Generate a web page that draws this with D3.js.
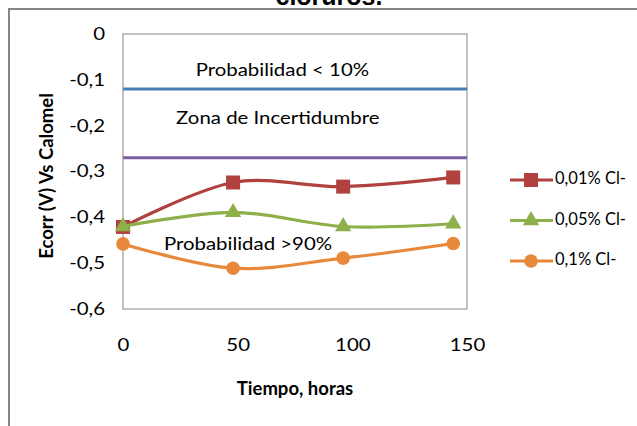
<!DOCTYPE html>
<html>
<head>
<meta charset="utf-8">
<script src="https://cdn.jsdelivr.net/npm/d3@7"></script>
<style>
  html, body { margin: 0; padding: 0; background: #fff; }
  svg { display: block; font-family: Lato, "Open Sans", sans-serif; }
</style>
</head>
<body>
<svg id="chart" width="637" height="426"></svg>
<script>
// Corrosion potential vs time for three chloride concentrations
const hours = [0, 48, 96, 144];
const seriesNames = ["0,01% Cl-", "0,05% Cl-", "0,1% Cl-"];
const ecorr001 = [-0.421, -0.324, -0.333, -0.313];
const ecorr005 = [-0.420, -0.389, -0.420, -0.414];
const ecorr01  = [-0.458, -0.511, -0.489, -0.457];
const seriesColors = ["#B0413E", "#8DB04A", "#E8883A"];
const seriesMarkers = ["square", "triangle", "circle"];

// Threshold lines (ASTM C876 style zones)
const thresholds = [-0.12, -0.27];
const thresholdColors = ["#4A7EBB", "#7D5FA0"];
const zoneLabels = [
  { text: "Probabilidad < 10%", x: 69.5, y: -0.083 },
  { text: "Zona de Incertidumbre", x: 67.5, y: -0.188 },
  { text: "Probabilidad >90%", x: 54.5, y: -0.461 }
];

const xTicks = [0, 50, 100, 150];
const yTicks = [0, -0.1, -0.2, -0.3, -0.4, -0.5, -0.6];

// horizontal stretch applied to the plain-text labels
const STRETCH = 1.2;

const svg = d3.select("#chart");

// Outer chart frame (partly outside the viewport)
svg.append("rect")
  .attr("x", 9).attr("y", 9)
  .attr("width", 700).attr("height", 500)
  .attr("fill", "none")
  .attr("stroke", "#858585")
  .attr("stroke-width", 2);

// Title tail visible above the frame
svg.append("text")
  .attr("x", 329).attr("y", 5)
  .attr("text-anchor", "middle")
  .attr("font-family", "Liberation Sans, Arial, sans-serif")
  .attr("font-weight", "bold")
  .attr("font-size", 25)
  .text("cloruros.");

const plot = { left: 123, right: 467, top: 34, bottom: 309 };

const x = d3.scaleLinear().domain([0, 150]).range([plot.left, plot.right]);
const y = d3.scaleLinear().domain([-0.6, 0]).range([plot.bottom, plot.top]);

// Plot area
svg.append("rect")
  .attr("x", plot.left).attr("y", plot.top)
  .attr("width", plot.right - plot.left)
  .attr("height", plot.bottom - plot.top)
  .attr("fill", "#fff")
  .attr("stroke", "#868686")
  .attr("stroke-width", 1);

// Axes (labels only, Excel style)
const fmt = d => d === 0 ? "0" : d3.format(".1f")(d).replace(".", ",").replace("−", "-");

const yPad = 18;
const yAxis = d3.axisLeft(y).tickValues(yTicks).tickSize(0).tickPadding(yPad).tickFormat(fmt);
const yG = svg.append("g").attr("transform", `translate(${plot.left},0)`).call(yAxis);
yG.select(".domain").remove();
yG.selectAll("text")
  .attr("font-size", 17).attr("fill", "#000").attr("font-family", "Lato, sans-serif")
  .attr("x", -yPad / STRETCH)
  .attr("transform", `scale(${STRETCH},1)`);

const xAxis = d3.axisBottom(x).tickValues(xTicks).tickSize(0).tickPadding(30).tickFormat(d3.format("d"));
const xG = svg.append("g").attr("transform", `translate(0,${plot.bottom})`).call(xAxis);
xG.select(".domain").remove();
xG.selectAll("text")
  .attr("font-size", 17).attr("fill", "#000").attr("font-family", "Lato, sans-serif")
  .attr("transform", `scale(${STRETCH},1)`);

// Threshold lines
thresholds.forEach((t, i) => {
  svg.append("line")
    .attr("x1", plot.left).attr("x2", plot.right)
    .attr("y1", y(t)).attr("y2", y(t))
    .attr("stroke", thresholdColors[i])
    .attr("stroke-width", 3);
});

// Series
const allSeries = [ecorr001, ecorr005, ecorr01];
const line = d3.line()
  .x(d => x(d[0]))
  .y(d => y(d[1]))
  .curve(d3.curveCardinal.tension(0));

function drawMarker(g, type, cx, cy, color) {
  if (type === "square") {
    g.append("rect")
      .attr("x", cx - 7).attr("y", cy - 7)
      .attr("width", 14).attr("height", 14)
      .attr("fill", color);
  } else if (type === "triangle") {
    g.append("path")
      .attr("d", d3.symbol().type(d3.symbolTriangle).size(115)())
      .attr("transform", `translate(${cx},${cy})`)
      .attr("fill", color);
  } else {
    g.append("circle")
      .attr("cx", cx).attr("cy", cy).attr("r", 6.8)
      .attr("fill", color);
  }
}

allSeries.forEach((vals, i) => {
  const pts = hours.map((h, j) => [h, vals[j]]);
  const g = svg.append("g");
  g.append("path")
    .attr("d", line(pts))
    .attr("fill", "none")
    .attr("stroke", seriesColors[i])
    .attr("stroke-width", 3.2)
    .attr("stroke-linejoin", "round");
  pts.forEach(p => drawMarker(g, seriesMarkers[i], x(p[0]), y(p[1]), seriesColors[i]));
});

// Zone annotations
zoneLabels.forEach(z => {
  svg.append("g")
    .attr("transform", `translate(${x(z.x)},${y(z.y)}) scale(${STRETCH},1)`)
    .append("text")
    .attr("text-anchor", "middle")
    .attr("dominant-baseline", "middle")
    .attr("font-size", 17)
    .attr("fill", "#000")
    .text(z.text);
});

// Axis titles
svg.append("text")
  .attr("transform", "translate(48,176) rotate(-90)")
  .attr("text-anchor", "middle")
  .attr("dominant-baseline", "middle")
  .attr("font-size", 18.5)
  .attr("font-weight", "bold")
  .text("Ecorr (V) Vs Calomel");

svg.append("text")
  .attr("x", 295).attr("y", 390)
  .attr("text-anchor", "middle")
  .attr("dominant-baseline", "middle")
  .attr("font-size", 18.5)
  .attr("font-weight", "bold")
  .text("Tiempo, horas");

// Legend
const legend = svg.append("g");
seriesNames.forEach((name, i) => {
  const ly = 180 + i * 40.5;
  legend.append("line")
    .attr("x1", 510).attr("x2", 553)
    .attr("y1", ly).attr("y2", ly)
    .attr("stroke", seriesColors[i])
    .attr("stroke-width", 3.2);
  drawMarker(legend, seriesMarkers[i], 531, ly, seriesColors[i]);
  legend.append("text")
    .attr("x", 555).attr("y", ly)
    .attr("dominant-baseline", "middle")
    .attr("font-size", 16.5)
    .attr("fill", "#000")
    .text(name);
});
</script>
</body>
</html>
